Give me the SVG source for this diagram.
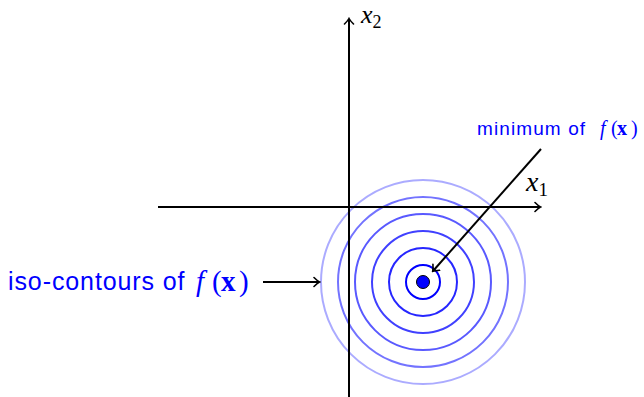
<svg xmlns="http://www.w3.org/2000/svg" width="644" height="397" viewBox="0 0 644 397">
<style>
.ax{stroke:#000;stroke-width:2;fill:none}
.ring{fill:none;stroke:#0000ff;stroke-width:2}
.sans{font-family:"Liberation Sans","DejaVu Sans",sans-serif;fill:#0000ff}
.math{font-family:"Liberation Serif","DejaVu Serif",serif}
.bl{fill:#0000ff}
</style>
<defs>
<marker id="to" viewBox="-6 -6 8 12" markerWidth="8" markerHeight="12" refX="0" refY="0" orient="auto" markerUnits="userSpaceOnUse">
<path d="M-5,-4.5 Q-1.5,-1 0.5,0 Q-1.5,1 -5,4.5" fill="none" stroke="#000" stroke-width="1.6" stroke-linecap="round"/>
</marker>
</defs>
<rect width="644" height="397" fill="#fff"/>
<g id="contours">
<circle class="ring" cx="423" cy="282" r="102" stroke-opacity="0.33"/>
<circle class="ring" cx="423" cy="282" r="85" stroke-opacity="0.55"/>
<circle class="ring" cx="423" cy="282" r="68" stroke-opacity="0.65"/>
<circle class="ring" cx="423" cy="282" r="51" stroke-opacity="0.75"/>
<circle class="ring" cx="423" cy="282" r="34" stroke-opacity="0.85"/>
<circle class="ring" cx="423" cy="282" r="17"/>
</g>
<g id="minimum">
<circle cx="423" cy="282" r="6.5" fill="#0000ff" stroke="#000" stroke-width="1"/>
</g>
<g id="connectors">
<line class="ax" x1="158" y1="207" x2="540" y2="207" marker-end="url(#to)"/>
<line class="ax" x1="349" y1="397" x2="349" y2="19" marker-end="url(#to)"/>
<line class="ax" x1="541" y1="149" x2="433" y2="271" marker-end="url(#to)"/>
<line class="ax" x1="263" y1="282" x2="319" y2="282" marker-end="url(#to)"/>
</g>
<g id="x2label">
<text class="math" x="361" y="23" font-size="26"><tspan font-style="italic">x</tspan><tspan font-size="18" dy="5">2</tspan></text>
</g>
<g id="x1label">
<text class="math" x="526" y="191" font-size="28"><tspan font-style="italic">x</tspan><tspan font-size="19" dy="5">1</tspan></text>
</g>
<g id="minlabel">
<text class="sans" x="477" y="135" font-size="19" letter-spacing="1.1">minimum of</text>
<text class="math bl" y="135" font-size="20"><tspan x="600" font-style="italic">f</tspan><tspan x="611">(</tspan><tspan x="617" font-weight="bold">x</tspan><tspan x="631">)</tspan></text>
</g>
<g id="isolabel">
<text class="sans" x="8" y="290" font-size="25" letter-spacing="0.9">iso-contours of</text>
<text class="math bl" y="291" font-size="29"><tspan x="196" font-style="italic">f</tspan><tspan x="212">(</tspan><tspan x="221" font-weight="bold">x</tspan><tspan x="239">)</tspan></text>
</g>
</svg>
